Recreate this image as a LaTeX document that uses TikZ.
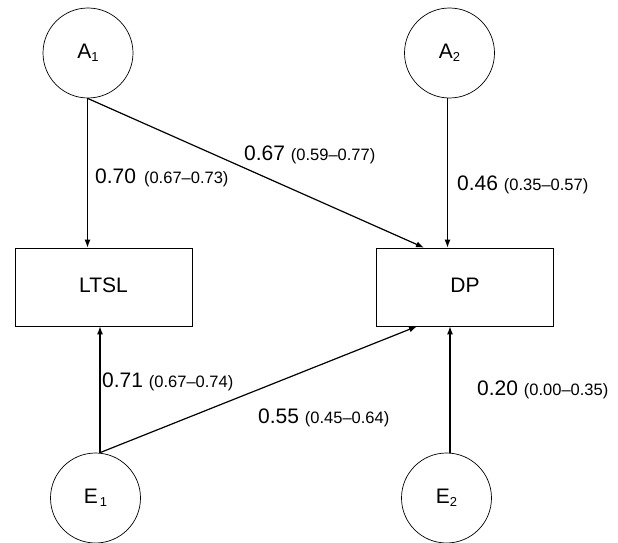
\documentclass[tikz,border=0pt]{standalone}
\usepackage{fontspec}
\setmainfont{Liberation Sans}
\usetikzlibrary{arrows.meta}
\newcommand{\ciText}[1]{{\fontsize{16.5}{16.5}\selectfont #1}}
\newcommand{\subNum}[1]{\raisebox{-2.5pt}{\fontsize{13}{13}\selectfont #1}}
\begin{document}
\begin{tikzpicture}[x=1pt,y=-1pt,
  latent/.style={circle,draw,line width=0.7pt,minimum size=90pt,inner sep=0pt,font=\fontsize{21}{21}\selectfont},
  obs/.style={rectangle,draw,line width=0.7pt,minimum width=177pt,minimum height=78pt,inner sep=0pt,font=\fontsize{21}{21}\selectfont},
  arrowline/.style={line width=1.2pt,-{Latex[length=8pt,width=6pt]}},
  lab/.style={anchor=base west,inner sep=0pt,font=\fontsize{21}{21}\selectfont},
]
\useasboundingbox (0,0) rectangle (618,543);
\node[latent] (A1) at (88,53) {A\subNum{1}};
\node[latent] (A2) at (449.5,53) {A\subNum{2}};
\node[latent] (E1) at (95.5,498) {E\hspace{2pt}\subNum{1}};
\node[latent] (E2) at (446.5,498) {E\subNum{2}};
\node[obs] (LTSL) at (103.5,287) {\raisebox{4pt}{LTSL}};
\node[obs] (DP) at (465,287) {\raisebox{4pt}{DP}};

\coordinate (a1s) at ([xshift=-0.5pt]A1.south);
\coordinate (a2s) at ([xshift=-2pt]A2.south);
\coordinate (e1n) at ([xshift=4.5pt]E1.north);
\coordinate (e2n) at ([xshift=3.5pt]E2.north);
\coordinate (dpA) at ([xshift=-41pt]DP.north);
\coordinate (dpE) at ([xshift=-48pt]DP.south);

\draw[arrowline] (a1s) -- (a1s |- LTSL.north);
\draw[arrowline] (a1s) -- (dpA);
\draw[arrowline] (a2s) -- (a2s |- DP.north);
\draw[arrowline] (e1n) -- (e1n |- LTSL.south);
\draw[arrowline] (e1n) -- (dpE);
\draw[arrowline] (e2n) -- (e2n |- DP.south);

\node[lab] (l70) at (95,183) {0.70\hspace{8pt}\ciText{(0.67–0.73)}};
\node[lab] (l67) at (244,160) {0.67 \ciText{(0.59–0.77)}};
\node[lab] (l46) at (457,190) {0.46 \ciText{(0.35–0.57)}};
\node[lab] (l71) at (102,387) {0.71 \ciText{(0.67–0.74)}};
\node[lab] (l55) at (258,423) {0.55 \ciText{(0.45–0.64)}};
\node[lab] (l20) at (477,395) {0.20 \ciText{(0.00–0.35)}};
\end{tikzpicture}
\end{document}
